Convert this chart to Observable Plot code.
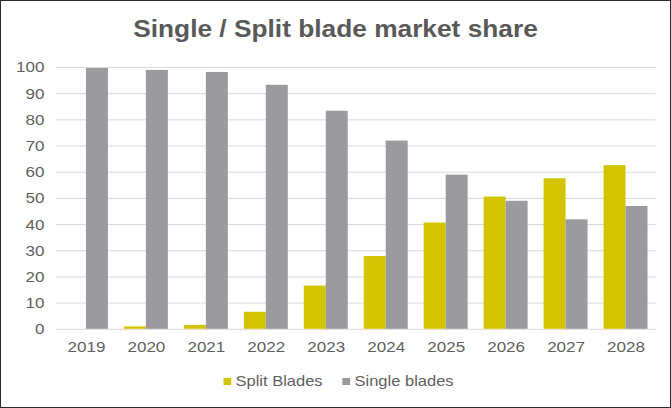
<!DOCTYPE html>
<html><head><meta charset="utf-8">
<script src="https://cdn.jsdelivr.net/npm/d3@7"></script>
<script src="https://cdn.jsdelivr.net/npm/@observablehq/plot@0.6"></script>
<style>
html,body{margin:0;padding:0;background:#fff;}
#wrap{position:relative;width:671px;height:408px;box-sizing:border-box;border:1.5px solid #2a2a2a;font-family:"Liberation Sans",Arial,sans-serif;overflow:hidden;}
#title{position:absolute;left:0;right:0;top:14px;text-align:center;font-weight:bold;font-size:24px;color:#595959;transform:scaleX(1.095);transform-origin:50% 50%;}
#chart{position:absolute;left:-1.5px;top:48.5px;}
#legend{position:absolute;left:6px;right:0;top:371px;text-align:center;font-size:15px;color:#5f5f5f;transform:scaleX(1.1);transform-origin:50% 50%;}
#legend span.sw{display:inline-block;width:7px;height:7px;margin-right:4px;vertical-align:1px;}
#legend span.item{margin:0 9px;}
</style></head>
<body>
<div id="wrap">
<div id="title">Single / Split blade market share</div>
<div id="chart"></div>
<div id="legend"></div>
</div>
<script>
const years = ["2019","2020","2021","2022","2023","2024","2025","2026","2027","2028"];
const splitBlades = [0, 0.9, 1.5, 6.5, 16.5, 27.8, 40.6, 50.5, 57.5, 62.5];
const singleBlades = [99.6, 98.9, 98.1, 93.2, 83.3, 71.9, 58.9, 48.9, 41.8, 46.9];
const seriesNames = ["Split Blades", "Single blades"];
const seriesColors = ["#d3c400", "#9b9b9f"];
const yTicks = [0,10,20,30,40,50,60,70,80,90,100];

const data = [];
years.forEach((y,i)=>{
  data.push({year:y, series:seriesNames[0], value:splitBlades[i]});
  data.push({year:y, series:seriesNames[1], value:singleBlades[i]});
});

const W = 671, H = 310, mL = 56, mR = 15;
const band = (W - mL - mR) / years.length;
const barW = 22;
const outer = band/2 - barW;

const chart = Plot.plot({
  width: W, height: H,
  marginLeft: mL, marginRight: mR, marginTop: 17, marginBottom: 31,
  style: {fontFamily: '"Liberation Sans", Arial, sans-serif', fontSize: "15.5px", color: "#5f5f5f", background: "transparent"},
  x: {domain: years, padding: 0, label: null, tickSize: 0, tickPadding: 12},
  y: {domain: [0, 100], ticks: yTicks, label: null, tickSize: 0, tickPadding: 12, tickFormat: d=>String(d)},
  color: {domain: seriesNames, range: seriesColors},
  marks: [
    Plot.ruleY(yTicks, {stroke: "#d9d9d9", strokeWidth: 1}),
    Plot.barY(data.filter(d=>d.series===seriesNames[0]), {x:"year", y:"value", fill:"series", insetLeft: outer, insetRight: band/2}),
    Plot.barY(data.filter(d=>d.series===seriesNames[1]), {x:"year", y:"value", fill:"series", insetLeft: band/2, insetRight: outer})
  ]
});
// widen tick labels horizontally to match the reference's stretched lettering
chart.querySelectorAll('g[aria-label$="tick label"] text').forEach(t=>{
  const tr = t.getAttribute("transform") || "";
  t.setAttribute("transform", tr + " scale(1.1,1)");
});
document.getElementById("chart").appendChild(chart);

const lg = document.getElementById("legend");
seriesNames.forEach((n,i)=>{
  const it = document.createElement("span");
  it.className = "item";
  it.innerHTML = `<span class="sw" style="background:${seriesColors[i]}"></span>${n}`;
  lg.appendChild(it);
});
</script>
</body></html>
